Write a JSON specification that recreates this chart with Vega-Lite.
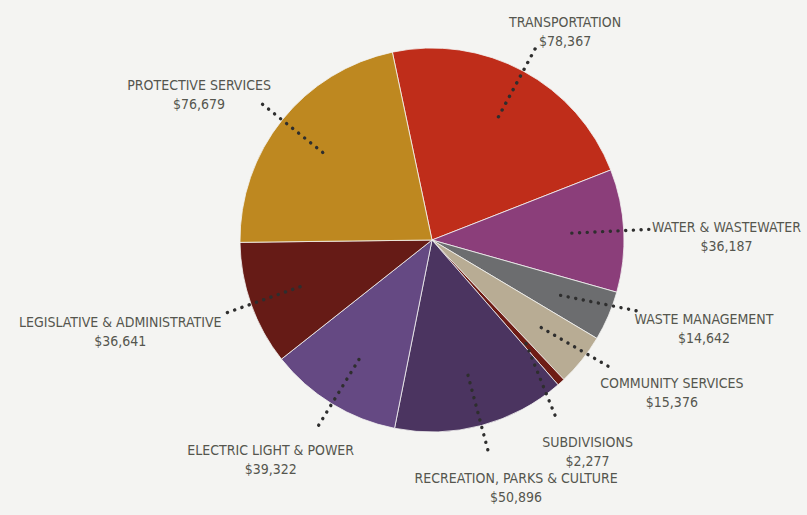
{
  "$schema": "https://vega.github.io/schema/vega-lite/v6.json",
  "width": 750,
  "height": 480,
  "autosize": {"type": "none"},
  "padding": {"left": 57, "top": 0, "right": 0, "bottom": 35},
  "background": "#f4f4f2",
  "config": {"view": {"stroke": null}},
  "data": {"values": [
    {"category": "TRANSPORTATION", "value": 78367},
    {"category": "WATER & WASTEWATER", "value": 36187},
    {"category": "WASTE MANAGEMENT", "value": 14642},
    {"category": "COMMUNITY SERVICES", "value": 15376},
    {"category": "SUBDIVISIONS", "value": 2277},
    {"category": "RECREATION, PARKS & CULTURE", "value": 50896},
    {"category": "ELECTRIC LIGHT & POWER", "value": 39322},
    {"category": "LEGISLATIVE & ADMINISTRATIVE", "value": 36641},
    {"category": "PROTECTIVE SERVICES", "value": 76679}
  ]},
  "transform": [
    {"window": [{"op": "row_number", "as": "idx"}]},
    {"joinaggregate": [{"op": "sum", "field": "value", "as": "total"}]},
    {"window": [{"op": "sum", "field": "value", "as": "cum"}], "sort": [{"field": "idx"}], "frame": [null, 0]},
    {"calculate": "-0.208 + 2*PI*(datum.cum - datum.value/2)/datum.total", "as": "a"},
    {"window": [{"op": "lag", "field": "a", "as": "prevA"}, {"op": "lead", "field": "a", "as": "nextA"}], "sort": [{"field": "idx"}]},
    {"calculate": "datum.a + (isValid(datum.prevA) ? max(0, 0.42 - (datum.a - datum.prevA))/2 : 0) - (isValid(datum.nextA) ? max(0, 0.42 - (datum.nextA - datum.a))/2 : 0)", "as": "la"},
    {"calculate": "140*sin(datum.a)", "as": "x1"},
    {"calculate": "-140*cos(datum.a)", "as": "y1"},
    {"calculate": "220*sin(datum.la)", "as": "x2"},
    {"calculate": "-220*cos(datum.la)", "as": "y2"},
    {"calculate": "length(datum.category)*3.6", "as": "hw"},
    {"calculate": "230*sin(datum.la) + datum.hw*sin(datum.la)", "as": "lx"},
    {"calculate": "-226*cos(datum.la) - 21*cos(datum.la)", "as": "ly"},
    {"calculate": "datum.category + '\\n$' + format(datum.value, ',')", "as": "label"}
  ],
  "layer": [
    {
      "mark": {"type": "arc", "outerRadius": 192, "stroke": "#f4f4f2", "strokeWidth": 0.8},
      "encoding": {
        "theta": {"field": "value", "type": "quantitative", "stack": true, "scale": {"range": [-0.208, 6.0752]}},
        "order": {"field": "idx", "type": "quantitative"},
        "color": {
          "field": "category", "type": "nominal", "legend": null,
          "scale": {
            "domain": ["TRANSPORTATION", "WATER & WASTEWATER", "WASTE MANAGEMENT", "COMMUNITY SERVICES", "SUBDIVISIONS", "RECREATION, PARKS & CULTURE", "ELECTRIC LIGHT & POWER", "LEGISLATIVE & ADMINISTRATIVE", "PROTECTIVE SERVICES"],
            "range": ["#bf2d1a", "#8b3e7a", "#6c6d6f", "#b8ac94", "#6e1c15", "#4b3460", "#654983", "#661b16", "#be8820"]
          }
        }
      }
    },
    {
      "mark": {"type": "rule", "color": "#2e2e2e", "strokeWidth": 3.4, "strokeCap": "round", "strokeDash": [0.1, 7.6]},
      "encoding": {
        "x": {"field": "x1", "type": "quantitative", "axis": null, "scale": {"domain": [-375, 375], "nice": false, "zero": false}},
        "y": {"field": "y1", "type": "quantitative", "axis": null, "scale": {"domain": [-240, 240], "nice": false, "zero": false, "reverse": true}},
        "x2": {"field": "x2"},
        "y2": {"field": "y2"}
      }
    },
    {
      "mark": {"type": "text", "align": "center", "baseline": "middle", "lineBreak": "\n", "font": "DejaVu Sans Condensed, sans-serif", "fontSize": 14, "lineHeight": 19, "color": "#55564e"},
      "encoding": {
        "x": {"field": "lx", "type": "quantitative", "axis": null, "scale": {"domain": [-375, 375], "nice": false, "zero": false}},
        "y": {"field": "ly", "type": "quantitative", "axis": null, "scale": {"domain": [-240, 240], "nice": false, "zero": false, "reverse": true}},
        "text": {"field": "label", "type": "nominal"}
      }
    }
  ]
}
